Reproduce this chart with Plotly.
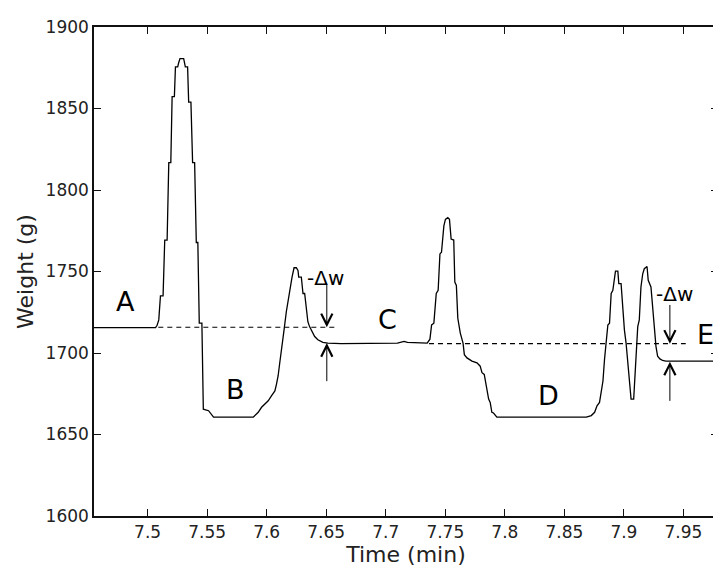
import plotly.graph_objects as go

# weight trace (time in min, weight in g)
time_min = [
    7.455, 7.5067, 7.5080, 7.5094, 7.5108, 7.5130, 7.5144, 7.5164, 7.5178, 7.5195,
    7.5206, 7.5225, 7.5234, 7.5253, 7.5261, 7.5272, 7.5303, 7.5317, 7.5336, 7.5345,
    7.5364, 7.5378, 7.5395, 7.5409, 7.5422, 7.5434, 7.5456, 7.5468, 7.5512, 7.5554,
    7.5887, 7.5929, 7.5957, 7.5985, 7.6013, 7.6040, 7.6069, 7.6082, 7.6096, 7.6110,
    7.6130, 7.6146, 7.6165, 7.6185, 7.6202, 7.6213, 7.6230, 7.6249, 7.6263, 7.6269,
    7.6291, 7.6305, 7.6319, 7.6332, 7.6346, 7.6360, 7.6374, 7.6388, 7.6403, 7.6430,
    7.6472, 7.6514, 7.6625, 7.7098, 7.7154, 7.7182, 7.7348, 7.7371, 7.7385, 7.7404,
    7.7424, 7.7440, 7.7455, 7.7468, 7.7488, 7.7501, 7.7521, 7.7535, 7.7549, 7.7571,
    7.7580, 7.7593, 7.7605, 7.7626, 7.7649, 7.7660, 7.7682, 7.7724, 7.7766, 7.7793,
    7.7808, 7.7827, 7.7844, 7.7855, 7.7864, 7.7877, 7.7891, 7.7905, 7.7933, 7.8684,
    7.8726, 7.8754, 7.8774, 7.8795, 7.8809, 7.8824, 7.8837, 7.8851, 7.8865, 7.8879,
    7.8893, 7.8907, 7.8921, 7.8929, 7.8949, 7.8957, 7.8976, 7.8991, 7.9004, 7.9018,
    7.9032, 7.9046, 7.9060, 7.9082, 7.9093, 7.9107, 7.9116, 7.9129, 7.9143, 7.9158,
    7.9171, 7.9194, 7.9204, 7.9227, 7.9246, 7.9260, 7.9269, 7.9283, 7.9302, 7.9325,
    7.9352, 7.980,
]
weight_g = [
    1715.6, 1715.6, 1717.0, 1720.3, 1735.0, 1735.0, 1769.3, 1769.3, 1816.8, 1816.8,
    1857.3, 1857.3, 1875.5, 1875.5, 1878.1, 1880.6, 1880.6, 1875.5, 1875.5, 1853.9,
    1853.9, 1816.8, 1816.8, 1767.8, 1767.8, 1718.3, 1718.3, 1665.5, 1664.6, 1660.6,
    1660.6, 1663.6, 1666.7, 1668.7, 1670.7, 1673.7, 1676.7, 1680.8, 1685.9, 1694.0,
    1704.1, 1714.2, 1725.3, 1735.5, 1742.6, 1746.6, 1752.3, 1752.3, 1750.6, 1746.6,
    1746.6, 1736.5, 1736.5, 1726.3, 1719.2, 1716.2, 1714.2, 1712.2, 1710.1, 1708.1,
    1706.5, 1706.1, 1705.7, 1706.1, 1707.1, 1706.5, 1706.1, 1708.5, 1717.2, 1718.3,
    1736.5, 1738.5, 1760.8, 1761.8, 1778.0, 1782.0, 1783.0, 1782.0, 1769.9, 1769.3,
    1743.5, 1741.5, 1721.3, 1712.2, 1706.1, 1699.0, 1697.0, 1695.0, 1694.0, 1691.9,
    1687.9, 1686.9, 1679.8, 1677.8, 1671.7, 1669.7, 1663.6, 1663.2, 1660.6, 1660.6,
    1661.6, 1663.6, 1667.6, 1669.7, 1677.8, 1682.8, 1696.0, 1706.1, 1717.2, 1718.3,
    1736.5, 1738.5, 1748.6, 1750.2, 1750.2, 1742.6, 1742.6, 1724.3, 1714.2, 1706.1,
    1696.0, 1683.9, 1671.7, 1671.7, 1683.9, 1702.1, 1716.2, 1720.3, 1740.5, 1748.6,
    1751.7, 1753.1, 1744.6, 1740.5, 1722.3, 1708.1, 1704.1, 1698.0, 1696.4, 1695.4,
    1695.0, 1695.0,
]

# dashed reference levels
ref1_time = [7.509, 7.6597]
ref1_weight = [1715.8, 1715.8]
ref2_time = [7.7363, 7.9519]
ref2_weight = [1705.7, 1705.7]

# phase labels
phase_labels = ["A", "B", "C", "D", "E"]
phase_time = [7.4816, 7.574, 7.7015, 7.8364, 7.9687]
phase_weight = [1731.4, 1677.8, 1720.3, 1673.7, 1711.2]

# -Δw markers
dw_time = [7.6505, 7.9386]
dw_ref = [1715.8, 1705.7]
dw_settled = [1706.1, 1694.7]
dw_top = [1742.6, 1730.4]
dw_bottom = [1681.8, 1669.7]
dw_label_time = [7.649, 7.9427]
dw_label_weight = [1745.8, 1736.5]

FONT = "DejaVu Sans"

fig = go.Figure()

fig.add_trace(go.Scatter(
    x=time_min, y=weight_g, mode="lines",
    line=dict(color="black", width=1.3),
    showlegend=False, hoverinfo="skip",
))
for tx, wy in [(ref1_time, ref1_weight), (ref2_time, ref2_weight)]:
    fig.add_trace(go.Scatter(
        x=tx, y=wy, mode="lines",
        line=dict(color="black", width=1.2, dash="5px,4px"),
        showlegend=False, hoverinfo="skip",
    ))

annotations = []
for lab, t, w in zip(phase_labels, phase_time, phase_weight):
    annotations.append(dict(
        x=t, y=w, xref="x", yref="y", text=lab, showarrow=False,
        font=dict(family=FONT, size=27, color="black"),
    ))

for i in range(len(dw_time)):
    # downward arrow onto the dashed level
    annotations.append(dict(
        x=dw_time[i], y=dw_ref[i], ax=dw_time[i], ay=dw_top[i],
        xref="x", yref="y", axref="x", ayref="y", text="",
        showarrow=True, arrowhead=5, arrowsize=2.2, arrowwidth=1, arrowcolor="black",
    ))
    # upward arrow onto the settled level
    annotations.append(dict(
        x=dw_time[i], y=dw_settled[i], ax=dw_time[i], ay=dw_bottom[i],
        xref="x", yref="y", axref="x", ayref="y", text="",
        showarrow=True, arrowhead=5, arrowsize=2.2, arrowwidth=1, arrowcolor="black",
    ))
    annotations.append(dict(
        x=dw_label_time[i], y=dw_label_weight[i], xref="x", yref="y",
        text="-Δw", showarrow=False,
        font=dict(family=FONT, size=20, color="black"),
    ))

axis_common = dict(
    showline=True, linecolor="#111", linewidth=1.5, mirror="ticks",
    ticks="inside", ticklen=7, tickcolor="#111", tickwidth=1,
    showgrid=False, zeroline=False,
    tickfont=dict(family=FONT, size=17, color="#222"),
)

fig.update_layout(
    width=721, height=575,
    margin=dict(l=86, r=9, t=14, b=67),
    paper_bgcolor="white", plot_bgcolor="white",
    font=dict(family=FONT, color="#222"),
    xaxis=dict(range=[7.455, 7.979], tick0=7.5, dtick=0.05,
               title=dict(text="Time (min)", font=dict(family=FONT, size=22), standoff=4),
               **axis_common),
    yaxis=dict(range=[1600, 1900], dtick=50,
               title=dict(text="Weight (g)", font=dict(family=FONT, size=22), standoff=6),
               **axis_common),
    annotations=annotations,
)

fig.write_html("out.html")
